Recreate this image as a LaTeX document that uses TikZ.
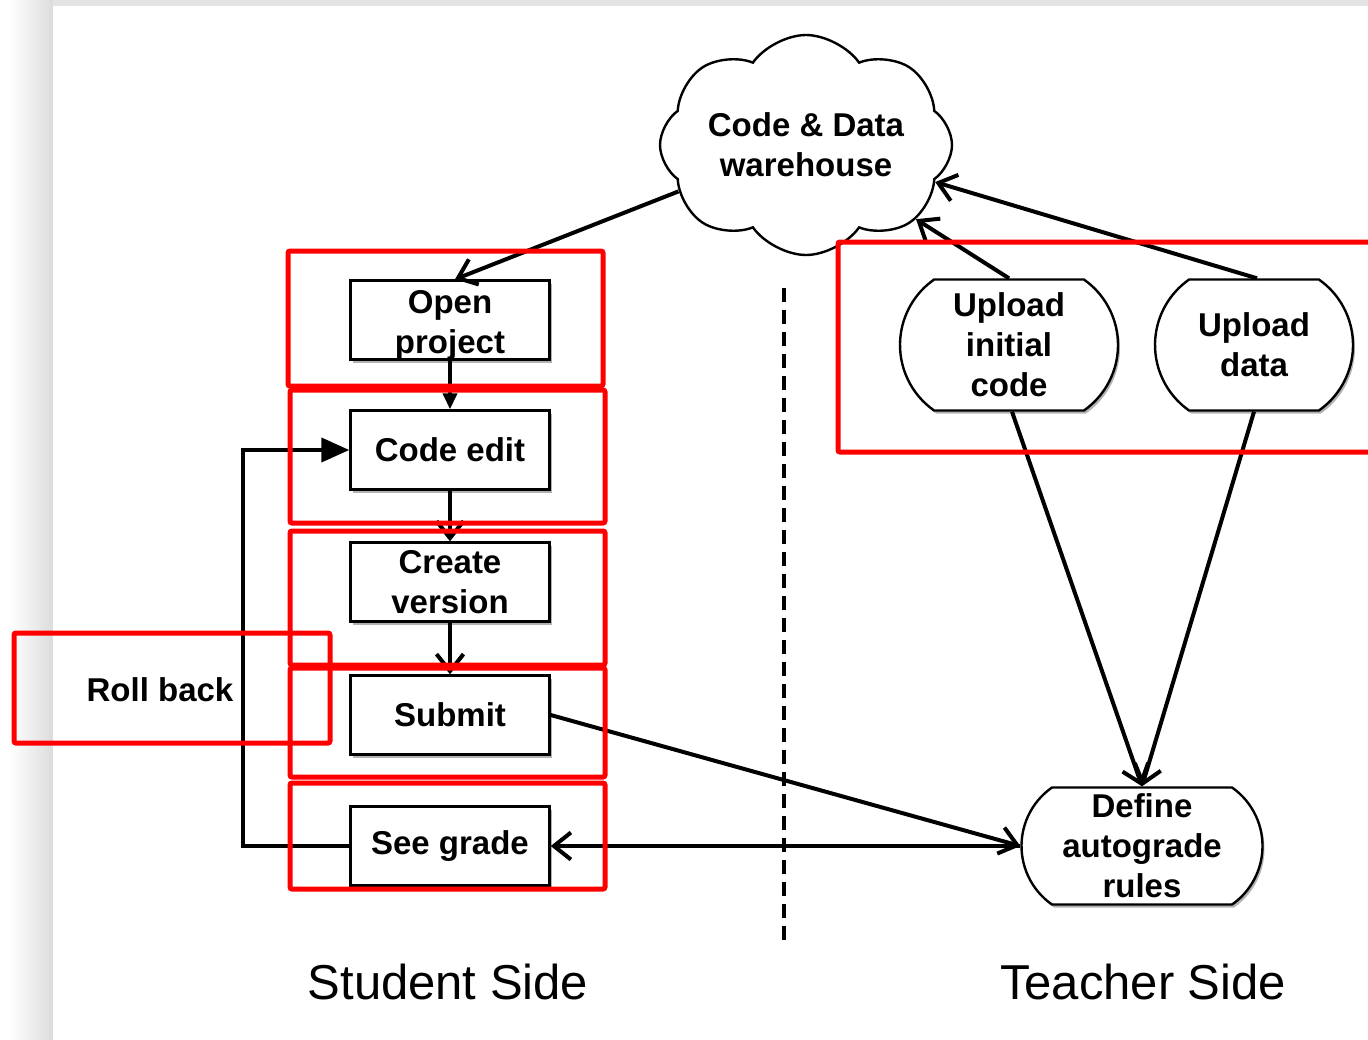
\documentclass[tikz,border=0pt]{standalone}
\usepackage{fontspec}
\setmainfont{Liberation Sans}
\usetikzlibrary{arrows.meta,shapes.symbols,shapes.misc,shadows}

\definecolor{edgegray}{RGB}{220,220,220}
\definecolor{bandgray}{RGB}{228,228,228}

\begin{document}
\begin{tikzpicture}[x=1pt,y=-1pt,
  every node/.style={font=\bfseries\fontsize{33}{40}\selectfont, align=center, inner sep=0pt},
  softshadow/.style={drop shadow={shadow xshift=2pt, shadow yshift=-3pt, opacity=0.3, fill=black}},
  stepbox/.style={draw, line width=2.4pt, fill=white, minimum width=199pt, minimum height=79pt, softshadow},
  termbox/.style={rounded rectangle, rounded rectangle arc length=110, draw, line width=2.4pt,
                  fill=white, softshadow},
  conn/.style={line width=4pt, -{Straight Barb[length=17pt,width=27pt]}},
  hl/.style={draw=red, line width=5pt, rounded corners=2pt},
  sidelabel/.style={font=\fontsize{49}{56}\selectfont}
]
% page and surroundings
\clip (0,0) rectangle (1368,1039);
\fill[bandgray] (0,0) rectangle (1368,1039);
\shade[left color=white, right color=edgegray] (10,0) rectangle (53,1039);
\fill[white] (0,0) rectangle (10,1039);
\fill[white] (53,6) rectangle (1368,1039);

% warehouse
\node[cloud, draw, line width=2.4pt, fill=white, cloud puffs=8, cloud puff arc=110,
      shape border rotate=22.5, cloud ignores aspect,
      minimum width=292pt, minimum height=220pt] (wh) at (806,145)
      {Code \& Data\\warehouse};

% student side
\node[stepbox] (op) at (450,320) {};
\node (opt) at (450,325) {Open\\project};
\node[stepbox] (ce) at (450,450) {Code edit};
\node[stepbox] (cv) at (450,582) {Create\\version};
\node[stepbox] (sb) at (450,715) {Submit};
\node[stepbox] (sg) at (450,846) {See grade};
\node (rbk) at (160,690) {Roll back};

% teacher side
\node[termbox, minimum width=218pt, minimum height=131pt] (up1) at (1009,345) {Upload\\initial\\code};
\node[termbox, minimum width=198pt, minimum height=131pt] (up2) at (1254,345) {Upload\\data};
\node[termbox, minimum width=241pt, minimum height=117pt] (def) at (1142,846) {Define\\autograde\\rules};

% divider
\coordinate (d1) at (784,288);
\coordinate (d2) at (784,940);
\draw[line width=3.4pt, dash pattern=on 14pt off 8pt] (d1) -- (d2);

% connectors
\draw[conn] (wh.200) -- ([xshift=5pt]op.north);
\draw[line width=4pt, -{Triangle[length=16pt,width=14pt]}] (op.south) -- (ce.north);
\draw[conn] (ce.south) -- (cv.north);
\draw[conn] (cv.south) -- (sb.north);
\draw[conn] (sb.east) -- (def.west);
\draw[conn] (def.west) -- (sg.east);
\coordinate (rb) at (243,0);
\draw[line width=4pt, -{Triangle[length=28pt,width=24pt]}]
  (sg.west) -- (sg.west -| rb) -- (ce.west -| rb) -- (ce.west);
\draw[conn] (up1.north) -- (wh.-34);
\draw[conn] ([xshift=3pt]up2.north) -- (wh.-16);
\draw[conn] ([xshift=3pt]up1.south) -- (def.north);
\draw[conn] (up2.south) -- (def.north);

% side captions
\node[sidelabel] (ss) at (448,982) {Student Side};
\node[sidelabel] (ts) at (1143,982) {Teacher Side};

% highlight frames
\draw[hl] (14,633) rectangle (330,743);
\draw[hl] (288,251) rectangle (603,386);
\draw[hl] (290,390) rectangle (605,523);
\draw[hl] (290,531) rectangle (605,665);
\draw[hl] (290,668) rectangle (605,777);
\draw[hl] (290,783) rectangle (605,889);
\draw[hl] (838,242) rectangle (1380,452);
\end{tikzpicture}
\end{document}
